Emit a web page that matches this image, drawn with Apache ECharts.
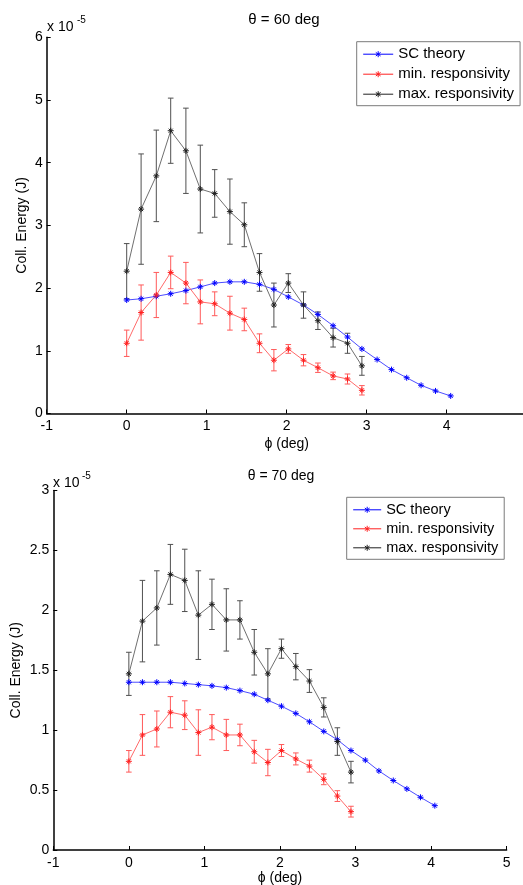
<!DOCTYPE html>
<html><head><meta charset="utf-8">
<script src="https://cdn.jsdelivr.net/npm/echarts@6/dist/echarts.min.js"></script>
<style>html,body{margin:0;padding:0;background:#fff}#c{width:523px;height:885px}</style>
</head><body><div id="c"></div>
<script>
// phi (deg) sample positions
const phi = [0, 0.18, 0.37, 0.55, 0.74, 0.92, 1.10, 1.29, 1.47, 1.66, 1.84, 2.02, 2.21, 2.39, 2.58, 2.76, 2.94, 3.13, 3.31, 3.50, 3.68, 3.86, 4.05];
const xTicks = [-1, 0, 1, 2, 3, 4, 5];
const yTicks60 = [0, 1, 2, 3, 4, 5, 6];
const yTicks70 = [0, 0.5, 1, 1.5, 2, 2.5, 3];
const seriesNames = ['SC theory', 'min. responsivity', 'max. responsivity'];

// theta = 60 deg (values x 1e-5 J)
const theory60 = [1.81, 1.83, 1.87, 1.91, 1.96, 2.02, 2.08, 2.10, 2.10, 2.06, 1.98, 1.86, 1.73, 1.58, 1.40, 1.22, 1.03, 0.86, 0.70, 0.57, 0.45, 0.36, 0.28];
const min60 = [1.12, 1.61, 1.89, 2.25, 2.08, 1.78, 1.75, 1.60, 1.50, 1.12, 0.85, 1.03, 0.85, 0.73, 0.60, 0.55, 0.37];
const min60Err = [0.21, 0.44, 0.36, 0.26, 0.33, 0.35, 0.19, 0.27, 0.18, 0.15, 0.17, 0.07, 0.09, 0.075, 0.06, 0.08, 0.075];
const max60 = [2.27, 3.26, 3.79, 4.51, 4.19, 3.58, 3.51, 3.22, 3.01, 2.25, 1.73, 2.08, 1.73, 1.48, 1.21, 1.12, 0.76];
const max60Err = [0.44, 0.88, 0.73, 0.52, 0.68, 0.70, 0.38, 0.52, 0.35, 0.30, 0.35, 0.15, 0.21, 0.14, 0.15, 0.16, 0.15];

// theta = 70 deg (values x 1e-5 J)
const theory70 = [1.40, 1.40, 1.40, 1.40, 1.39, 1.38, 1.37, 1.355, 1.33, 1.30, 1.25, 1.20, 1.14, 1.07, 0.99, 0.92, 0.83, 0.75, 0.66, 0.58, 0.51, 0.44, 0.37];
const min70 = [0.74, 0.96, 1.01, 1.15, 1.125, 0.98, 1.025, 0.96, 0.96, 0.82, 0.73, 0.83, 0.76, 0.70, 0.59, 0.45, 0.32];
const min70Err = [0.09, 0.17, 0.15, 0.13, 0.12, 0.19, 0.105, 0.13, 0.09, 0.095, 0.11, 0.05, 0.05, 0.05, 0.045, 0.045, 0.045];
const max70 = [1.47, 1.91, 2.02, 2.30, 2.25, 1.96, 2.05, 1.92, 1.92, 1.65, 1.47, 1.68, 1.53, 1.41, 1.19, 0.905, 0.65];
const max70Err = [0.18, 0.34, 0.31, 0.25, 0.26, 0.37, 0.21, 0.26, 0.16, 0.19, 0.21, 0.08, 0.11, 0.095, 0.08, 0.115, 0.09];

const FONT = "'Liberation Sans', Arial, Helvetica, sans-serif";
const STAR = 'path://M5,0L5,10M0,5L10,5M1.6,1.6L8.4,8.4M1.6,8.4L8.4,1.6';
const LEG_ICON_30 = 'path://M0,3L30,3M15,0L15,6M12.6,1.2L17.4,4.8M12.6,4.8L17.4,1.2';
const LEG_ICON_28 = 'path://M0,3L28,3M14,0L14,6M11.6,1.2L16.4,4.8M11.6,4.8L16.4,1.2';
const COLORS = {
  theory: {line: '#4d4dff', mark: '#0000ff'},
  min: {line: '#ff6a6a', mark: '#ff2020', err: '#ff5a5a'},
  max: {line: '#707070', mark: '#202020', err: '#505050'}
};

function pairs(ys) { return ys.map((v, i) => [phi[i], v]); }
function triples(ys, es) { return ys.map((v, i) => [phi[i], v, es[i]]); }

function lineSeries(name, ys, gi, c) {
  return {
    type: 'line', name: name, xAxisIndex: gi, yAxisIndex: gi,
    data: pairs(ys), symbol: STAR, symbolSize: 6, showSymbol: true,
    lineStyle: {color: c.line, width: 1},
    itemStyle: {color: c.mark, borderColor: c.mark, borderWidth: 1},
    emphasis: {disabled: true}, animation: false, z: 3
  };
}
function errSeries(ys, es, gi, color) {
  return {
    type: 'custom', xAxisIndex: gi, yAxisIndex: gi, data: triples(ys, es),
    encode: {x: 0, y: 1}, animation: false, silent: true, z: 2,
    renderItem: function (params, api) {
      const x = api.value(0), y = api.value(1), e = api.value(2);
      const t = api.coord([x, y + e]), b = api.coord([x, y - e]);
      const hw = 2.8, st = {stroke: color, lineWidth: 1};
      return {type: 'group', children: [
        {type: 'line', shape: {x1: t[0], y1: t[1], x2: b[0], y2: b[1]}, style: st},
        {type: 'line', shape: {x1: t[0] - hw, y1: t[1], x2: t[0] + hw, y2: t[1]}, style: st},
        {type: 'line', shape: {x1: b[0] - hw, y1: b[1], x2: b[0] + hw, y2: b[1]}, style: st}
      ]};
    }
  };
}

function xAxis(gi) {
  return {
    type: 'value', gridIndex: gi, min: xTicks[0], max: xTicks[xTicks.length - 1], interval: xTicks[1] - xTicks[0],
    name: 'ϕ (deg)', nameLocation: 'middle', nameGap: gi === 0 ? 24 : 21,
    nameTextStyle: {fontFamily: FONT, fontSize: 14, color: '#000'},
    axisLine: {onZero: false, lineStyle: {color: '#000', width: 1.5}},
    axisTick: {inside: true, length: 4, lineStyle: {color: '#000', width: 1}},
    axisLabel: {fontFamily: FONT, fontSize: 14, color: '#000', margin: 6, showMaxLabel: true, showMinLabel: true, hideOverlap: false},
    splitLine: {show: false}
  };
}
function yAxis(gi, ticks) {
  return {
    type: 'value', gridIndex: gi, min: ticks[0], max: ticks[ticks.length - 1], interval: ticks[1] - ticks[0],
    name: 'Coll. Energy (J)', nameLocation: 'middle', nameGap: gi === 0 ? 18 : 30, nameRotate: 90,
    nameMoveOverlap: false,
    nameTextStyle: {fontFamily: FONT, fontSize: 14, color: '#000'},
    axisLine: {onZero: false, lineStyle: {color: '#000', width: 1.5}},
    axisTick: {inside: true, length: 4, lineStyle: {color: '#000', width: 1}},
    axisLabel: {fontFamily: FONT, fontSize: 14, color: '#000', margin: 4,
      formatter: v => String(ticks.find(t => Math.abs(t - v) < 1e-9) ?? v)},
    splitLine: {show: false}
  };
}
function legend(left, top, fs, iw, gap, icon) {
  return {
    data: seriesNames.map(n => ({name: n, icon: icon})), orient: 'vertical', left: left, top: top,
    itemWidth: iw, itemHeight: 6, itemGap: gap, padding: [5, 6, 4, 6],
    borderColor: '#7a7a7a', borderWidth: 1, backgroundColor: '#fff',
    itemStyle: {borderWidth: 1},
    textStyle: {fontFamily: FONT, fontSize: fs, color: '#000'}, selectedMode: false
  };
}

const option = {
  backgroundColor: '#fff',
  animation: false,
  grid: [
    {left: 46.7, top: 37.3, width: 480, height: 376.2, outerBoundsMode: 'none', containLabel: false},
    {left: 53.3, top: 490.5, width: 453.3, height: 359.5, outerBoundsMode: 'none', containLabel: false}
  ],
  xAxis: [xAxis(0), xAxis(1)],
  yAxis: [yAxis(0, yTicks60), yAxis(1, yTicks70)],
  legend: [
    legend(356.7, 41.7, 15, 30, 5, LEG_ICON_30),
    legend(346.7, 497.3, 14.5, 28, 4, LEG_ICON_28)
  ],
  graphic: [
    {type: 'text', x: 284, y: 20, style: {text: 'θ = 60 deg', font: '15px ' + FONT, fill: '#000', align: 'center', verticalAlign: 'middle'}},
    {type: 'text', x: 281, y: 476, style: {text: 'θ = 70 deg', font: '14px ' + FONT, fill: '#000', align: 'center', verticalAlign: 'middle'}},
    {type: 'text', x: 47, y: 27, style: {text: 'x 10', font: '14px ' + FONT, fill: '#000', verticalAlign: 'middle'}},
    {type: 'text', x: 77, y: 20, style: {text: '-5', font: '10px ' + FONT, fill: '#000', verticalAlign: 'middle'}},
    {type: 'text', x: 53, y: 483, style: {text: 'x 10', font: '14px ' + FONT, fill: '#000', verticalAlign: 'middle'}},
    {type: 'text', x: 82, y: 476, style: {text: '-5', font: '10px ' + FONT, fill: '#000', verticalAlign: 'middle'}}
  ],
  series: [
    lineSeries(seriesNames[0], theory60, 0, COLORS.theory),
    errSeries(min60, min60Err, 0, COLORS.min.err),
    lineSeries(seriesNames[1], min60, 0, COLORS.min),
    errSeries(max60, max60Err, 0, COLORS.max.err),
    lineSeries(seriesNames[2], max60, 0, COLORS.max),
    lineSeries(seriesNames[0], theory70, 1, COLORS.theory),
    errSeries(min70, min70Err, 1, COLORS.min.err),
    lineSeries(seriesNames[1], min70, 1, COLORS.min),
    errSeries(max70, max70Err, 1, COLORS.max.err),
    lineSeries(seriesNames[2], max70, 1, COLORS.max)
  ]
};
const chart = echarts.init(document.getElementById('c'), null, {renderer: 'canvas'});
chart.setOption(option);
</script>
</body></html>
